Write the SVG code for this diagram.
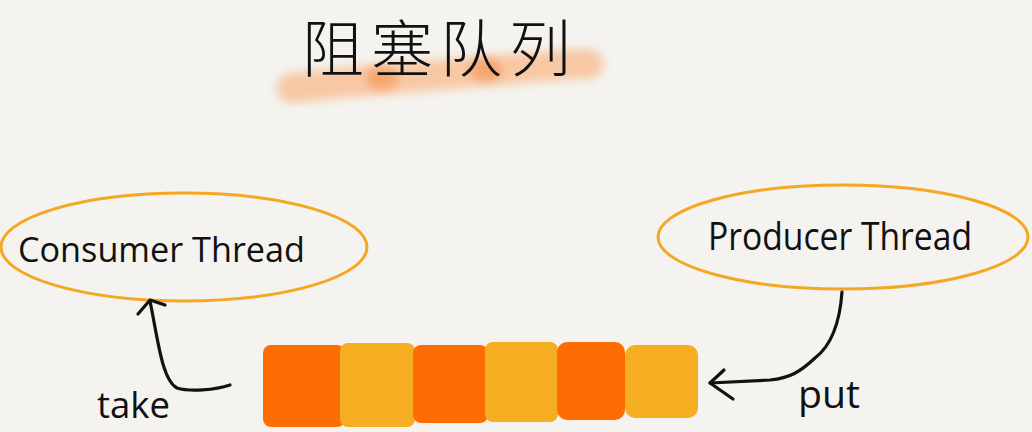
<svg xmlns="http://www.w3.org/2000/svg" width="1032" height="432" viewBox="0 0 1032 432">
  <defs>
    <filter id="blur6" x="-20%" y="-80%" width="140%" height="260%"><feGaussianBlur stdDeviation="5"/></filter>
    <style>
      .bg { fill: #f4f3ef; }
      .ell { fill: none; stroke: #f5a623; stroke-width: 3; }
      .hand { font-family: "Open Sans", "DejaVu Sans", sans-serif; fill: #111; font-weight: 400; }
      .title { font-family: "Noto Sans CJK SC", "Noto Sans CJK JP", sans-serif; font-weight: 300; fill: #111; }
      .orange { fill: #fe6d04; }
      .yellow { fill: #f5ae22; }
      .ink { fill: none; stroke: #111; stroke-width: 3.2; stroke-linecap: round; stroke-linejoin: round; }
    </style>
  </defs>
  <rect class="bg" x="0" y="0" width="1032" height="432"/>

  <g id="title">
    <path d="M292 88 C 330 84, 370 80, 400 78 S 470 72, 500 70 S 560 64, 588 64" fill="none" stroke="#f8c8a4" stroke-width="30" stroke-linecap="round" filter="url(#blur6)"/>
    <ellipse cx="382" cy="78" rx="16" ry="11" fill="#f5a46e" filter="url(#blur6)"/>
    <ellipse cx="486" cy="70" rx="16" ry="11" fill="#f5a46e" filter="url(#blur6)"/>
    <text class="title" x="302" y="72" font-size="62" letter-spacing="7">阻塞队列</text>
  </g>

  <g id="consumer">
    <ellipse class="ell" cx="184" cy="247" rx="183" ry="54"/>
    <text class="hand" x="18" y="262" font-size="34" textLength="287" lengthAdjust="spacingAndGlyphs">Consumer Thread</text>
  </g>

  <g id="producer">
    <ellipse class="ell" cx="843" cy="237" rx="185" ry="52"/>
    <text class="hand" x="708" y="250" font-size="38" textLength="264" lengthAdjust="spacingAndGlyphs">Producer Thread</text>
  </g>

  <g id="queue">
    <rect class="orange" x="263" y="345" width="82" height="82" rx="8"/>
    <rect class="yellow" x="340" y="343" width="75" height="84" rx="8"/>
    <rect class="orange" x="413" y="345" width="75" height="78" rx="8"/>
    <rect class="yellow" x="485" y="342" width="73" height="80" rx="8"/>
    <rect class="orange" x="557" y="342" width="68" height="78" rx="10"/>
    <rect class="yellow" x="625" y="345" width="73" height="73" rx="10"/>
  </g>

  <g id="take-label">
    <text class="hand" x="97" y="418" font-size="36" textLength="73" lengthAdjust="spacingAndGlyphs">take</text>
  </g>
  <g id="put-label">
    <text class="hand" x="798" y="408" font-size="38" textLength="62" lengthAdjust="spacingAndGlyphs">put</text>
  </g>

  <g id="connectors">
    <path class="ink" d="M230 385 C 215 390, 190 392, 177 388 C 162 380, 158 340, 150 301"/>
    <path class="ink" d="M138 314 L 150 300 L 165 305"/>
    <path class="ink" d="M842 292 C 840 320, 832 345, 815 358 C 800 372, 790 378, 770 380 L 710 383"/>
    <path class="ink" d="M724 370 L 710 383 L 733 399"/>
  </g>
</svg>
